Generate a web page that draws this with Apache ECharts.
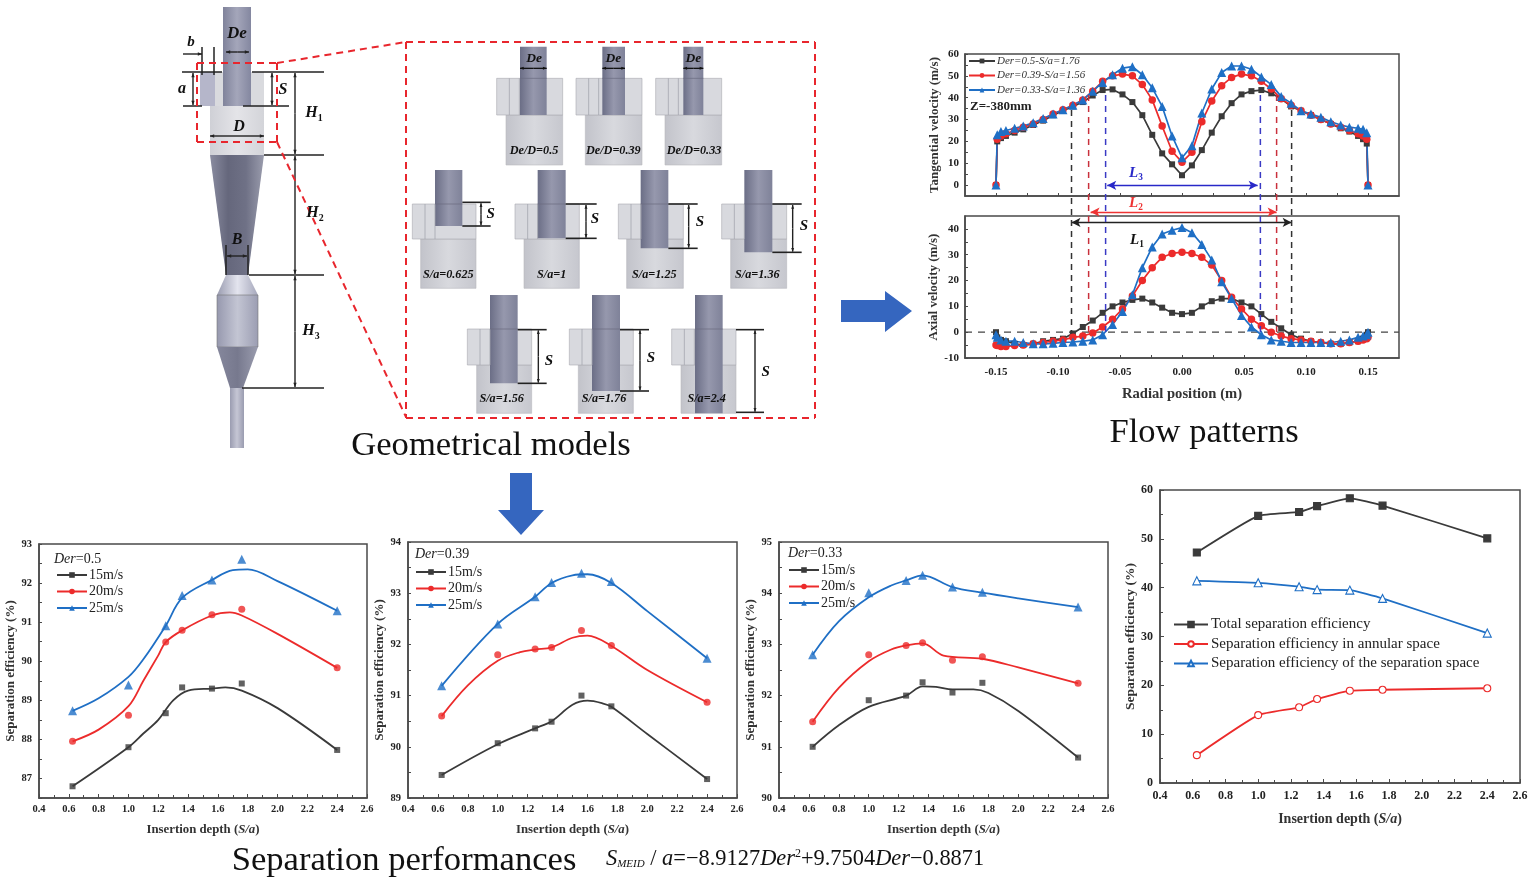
<!DOCTYPE html>
<html><head><meta charset="utf-8">
<style>html,body{margin:0;padding:0;background:#fff}#c{width:1534px;height:886px;filter:blur(.4px)}</style>
<script src="https://cdn.jsdelivr.net/npm/echarts@6/dist/echarts.min.js"></script>
</head><body><div id="c"></div>
<script>
// ---------- data ----------
const insertion=[0.625,1,1.25,1.36,1.56,1.76,2.4];
const speedNames=['15m/s','20m/s','25m/s'];
const a15=[86.8,87.8,88.67,89.33,89.3,89.43,87.73];
const a20=[87.95,88.62,90.49,90.79,91.19,91.33,89.83];
const a25=[88.73,89.39,90.91,91.68,92.08,92.61,91.29];
const aFit15=[[.625,86.8],[1,87.8],[1.1,88.15],[1.2,88.5],[1.3,89.0],[1.4,89.25],[1.56,89.3],[1.65,89.33],[1.76,89.25],[2,88.8],[2.4,87.73]];
const aFit20=[[.625,87.95],[.8,88.25],[1,88.85],[1.1,89.5],[1.2,90.15],[1.25,90.49],[1.36,90.79],[1.56,91.17],[1.68,91.25],[1.76,91.17],[2,90.7],[2.4,89.83]];
const aFit25=[[.625,88.73],[.8,89.05],[1,89.6],[1.1,90.05],[1.25,90.91],[1.36,91.62],[1.56,92.08],[1.7,92.33],[1.8,92.35],[2,92.05],[2.4,91.29]];
const b15=[89.45,90.07,90.36,90.49,91.0,90.79,89.37];
const b20=[90.6,91.8,91.91,91.94,92.27,91.98,90.87];
const b25=[91.19,92.4,92.93,93.21,93.39,93.23,91.73];
const bFit15=[[.625,89.45],[1,90.05],[1.25,90.36],[1.36,90.5],[1.5,90.82],[1.6,90.9],[1.7,90.85],[1.76,90.78],[2,90.25],[2.4,89.37]];
const bFit20=[[.625,90.6],[.8,91.2],[1,91.68],[1.15,91.85],[1.25,91.9],[1.36,91.94],[1.5,92.13],[1.6,92.17],[1.76,91.97],[2,91.5],[2.4,90.87]];
const bFit25=[[.625,91.19],[1,92.4],[1.25,92.93],[1.36,93.2],[1.5,93.35],[1.6,93.37],[1.76,93.2],[2,92.65],[2.4,91.73]];
const c15=[91.0,91.91,92.0,92.26,92.06,92.25,90.79];
const c20=[91.49,92.8,92.98,93.03,92.69,92.76,92.24];
const c25=[92.8,94.01,94.25,94.35,94.12,94.02,93.73];
const cFit15=[[.625,91],[.8,91.42],[1,91.78],[1.25,92],[1.36,92.18],[1.45,92.17],[1.56,92.12],[1.7,92.12],[1.8,92.05],[2,91.7],[2.4,90.79]];
const cFit20=[[.625,91.49],[.8,92.15],[1,92.67],[1.15,92.9],[1.25,92.98],[1.36,93.02],[1.5,92.78],[1.76,92.72],[2,92.55],[2.4,92.24]];
const cFit25=[[.625,92.8],[.8,93.45],[1,93.92],[1.15,94.15],[1.25,94.25],[1.36,94.35],[1.56,94.12],[1.76,94.01],[2,93.9],[2.4,93.73]];
const dTotal=[47.2,54.7,55.5,56.7,58.3,56.8,50.1];
const dAnnular=[5.7,13.9,15.5,17.2,18.9,19.1,19.4];
const dSeparation=[41.4,41,40.2,39.6,39.5,37.8,30.7];
const dNames=['Total separation efficiency','Separation efficiency in annular space','Separation efficiency of the separation space'];
const radial=[-.15,-.149,-.146,-.142,-.135,-.128,-.12,-.112,-.104,-.096,-.088,-.08,-.072,-.064,-.056,-.048,-.04,-.032,-.024,-.016,-.008,0,.008,.016,.024,.032,.04,.048,.056,.064,.072,.08,.088,.096,.104,.112,.12,.128,.135,.142,.146,.149,.15];
const flowNames=['Der=0.5-S/a=1.76','Der=0.39-S/a=1.56','Der=0.33-S/a=1.36'];
const tanBlack=[0,20,21.5,22.5,24,25.5,27.5,29.5,32,34,36,38,41,43.5,43.8,41.5,38,32,23,14.5,9.5,4.5,9,16,24,31.5,37.5,41.5,43,43.5,42,39.5,36,34,32,30,28,26,24.5,22.5,21,19,0];
const tanRed=[0,21,22.5,23.5,25,26.5,28,30,32.5,34.5,36.5,39,43,47.5,50,50.8,50,46,39,27,15.5,10.5,15,29,38.5,45.5,49.3,50.8,50,47.5,44,39.5,36.5,34,32,30,28,26.5,25,23.5,22.5,21,0];
const tanBlue=[0,23,24.5,25,26,27,28.5,30.5,32.5,34.5,36.5,39,43,47,50.5,53.5,54.2,50.5,44.5,36,22.5,12.5,18,33,44,51.5,54.5,54.5,53,49.5,46,40.5,37.5,34,32.5,31,29,27.5,26.5,26,25.5,24,0];
const axBlack=[0,-2,-3,-3.5,-4.5,-5,-4.5,-3.5,-3,-2.5,-.5,2,4.5,7.5,10,11.5,12.5,13,11.5,9.5,7.5,7,7.5,10,12,13,13,11.5,10,7,4,1.5,-1,-2.5,-3.5,-4,-4.5,-4.5,-4,-3.5,-2.5,-1,0];
const axRed=[-5,-5.2,-5.5,-5.5,-5.2,-5,-4.5,-4,-3.5,-3,-2,-1.5,-.3,2,5,9,14,20,25,29,30.5,31,30.5,29,26,20,13.5,9,5,2.5,0,-1.5,-2.5,-3,-3.5,-4,-4.5,-4.5,-4,-3.5,-3,-2.5,-2];
const axBlue=[-1,-2,-3,-3.5,-3.5,-4,-4.5,-4.5,-4.3,-4,-3.8,-3.5,-3,-1,3,8,14.5,25,33,38,39.5,40.5,38.5,34,28,19.5,13,6.5,2,-1,-3,-3.5,-4,-4,-4,-4,-4,-3.5,-3,-2,-1.5,-1,0];
const depthTicks=[.4,.6,.8,1,1.2,1.4,1.6,1.8,2,2.2,2.4,2.6];
const radialTicks=[-.15,-.1,-.05,0,.05,.1,.15];
const radialMarks={black:[-.0891,.0884],red:[-.0753,.0763],blue:[-.0616,.0632]};

// ---------- style ----------
const F='"Liberation Serif","Times New Roman",serif';
const BK='#3a3a3a',RD='#ec2b2b',BL='#1f6fc5',AX='#4a4a4a';
const grids=[],xAxes=[],yAxes=[],series=[],legends=[],g=[];
const range=(a,b,s)=>{const r=[];for(let i=0;Math.round((a+i*s)*1000)/1000<=b;i++)r.push(Math.round((a+i*s)*1000)/1000);return r};
function addGrid(box,x,y){
  grids.push({left:box[0],top:box[1],width:box[2]-box[0],height:box[3]-box[1],show:true,borderColor:AX,borderWidth:1.5,backgroundColor:'transparent'});
  const i=grids.length-1;
  xAxes.push(Object.assign({type:'value',gridIndex:i,splitLine:{show:false},axisLine:{onZero:false,lineStyle:{color:AX,width:1.5}},
    axisTick:{inside:true,length:3,lineStyle:{color:AX}},nameLocation:'middle'},x));
  yAxes.push(Object.assign({type:'value',gridIndex:i,splitLine:{show:false},axisLine:{onZero:false,lineStyle:{color:AX,width:1.5}},
    axisTick:{inside:true,length:3,lineStyle:{color:AX}},nameLocation:'middle'},y));
  return i;
}
const labelSt=(s)=>({color:'#222',fontFamily:F,fontSize:s,fontWeight:'bold'});
function depthX(){return {min:.4,max:2.6,interval:.2,
  minorTick:{show:true,splitNumber:2,length:3,lineStyle:{color:AX}},
  axisLabel:Object.assign({margin:6,formatter:v=>v.toFixed(1),customValues:depthTicks},labelSt(10.5)),
  axisTick:{inside:true,length:4,lineStyle:{color:AX}},
  name:'{a|Insertion depth (}{b|S/a}{a|)}',nameGap:25,
  nameTextStyle:{rich:{a:{fontFamily:F,fontSize:12.8,fontWeight:'bold',color:'#333'},b:{fontFamily:F,fontSize:12.8,fontWeight:'bold',fontStyle:'italic',color:'#333'}}}};}
function perfY(mn,mx,labels){return {min:mn,max:mx,
  axisLabel:Object.assign({margin:7,customValues:labels},labelSt(10.5)),
  axisTick:{inside:true,length:3,customValues:range(mn,mx,.5),lineStyle:{color:AX}},
  name:'Separation efficiency (%)',nameGap:16,nameTextStyle:{fontFamily:F,fontSize:13,fontWeight:'bold',color:'#333'}};}
function perfChart(box,y,sets,fits,legendPos,derText,derPos){
  const i=addGrid(box,depthX(),y);
  [[BK,'rect',6],[RD,'circle',7],[BL,'triangle',9]].forEach((st,k)=>{
    series.push({type:'line',name:speedNames[k],xAxisIndex:i,yAxisIndex:i,data:fits[k],smooth:.35,showSymbol:false,symbol:st[1],symbolSize:st[2]-1,
      lineStyle:{color:st[0],width:1.8},itemStyle:{color:st[0]},z:3,silent:true});
    series.push({type:'scatter',name:speedNames[k]+' points',xAxisIndex:i,yAxisIndex:i,data:insertion.map((x,n)=>[x,sets[k][n]]),symbol:st[1],symbolSize:st[2],
      itemStyle:{color:st[0]},z:4,silent:true});
  });
  legends.push({show:true,data:speedNames,orient:'vertical',left:legendPos[0],top:legendPos[1],itemWidth:30,itemHeight:7,itemGap:2.5,padding:0,selectedMode:false,
    textStyle:{fontFamily:F,fontSize:14,color:'#222',padding:[0,0,0,-3]}});
  text(derPos[0],derPos[1],'{i|Der}{n|='+derText+'}',{rich:{i:{fontFamily:F,fontStyle:'italic',fontSize:14,fill:'#222'},n:{fontFamily:F,fontSize:14,fill:'#222'}}},'left');
}

// ---------- graphic helpers ----------
function text(x,y,t,st,align){g.push({type:'text',x,y,z:20,style:Object.assign({text:t,fill:'#111',font:'16px '+F,align:align||'center',verticalAlign:'middle'},st||{})});}
function line(x1,y1,x2,y2,c,w,dash){g.push({type:'line',z:5,shape:{x1,y1,x2,y2},style:{stroke:c||'#222',lineWidth:w||1.4,lineDash:dash||null}});}
function rect(x0,y0,x1,y1,fill,stroke,z){g.push({type:'rect',z:z||2,shape:{x:x0,y:y0,width:x1-x0,height:y1-y0},style:{fill,stroke:stroke||null,lineWidth:stroke?.6:0}});}
function poly(pts,fill,z){g.push({type:'polygon',z:z||2,shape:{points:pts},style:{fill}});}
function hGrad(stops){return {type:'linear',x:0,y:0,x2:1,y2:0,colorStops:stops.map((c,i)=>({offset:i/(stops.length-1),color:c}))};}
function arrow(x1,y1,x2,y2,c,w,s){line(x1,y1,x2,y2,c,w);s=s||4.5;const a=Math.atan2(y2-y1,x2-x1);const head=(x,y,b)=>poly([[x,y],[x-s*Math.cos(b-.38),y-s*Math.sin(b-.38)],[x-s*Math.cos(b+.38),y-s*Math.sin(b+.38)]],c||'#222',6);head(x2,y2,a);}
function dbl(x1,y1,x2,y2,c,w,s){const mx=(x1+x2)/2,my=(y1+y2)/2;arrow(mx,my,x1,y1,c,w,s);arrow(mx,my,x2,y2,c,w,s);}
const bi=(s)=>({font:'italic bold '+s+'px '+F});
function sub(x,y,m,s,size,fill){text(x,y,'{m|'+m+'}{s|'+s+'}',{rich:{m:{fontFamily:F,fontStyle:'italic',fontWeight:'bold',fontSize:size,fill:fill||'#111',verticalAlign:'bottom'},s:{fontFamily:F,fontWeight:'bold',fontSize:size*.62,fill:fill||'#111',verticalAlign:'bottom',padding:[0,0,-2,0]}}});}

// ---------- whole cyclone ----------
const dark=hGrad(['#8a8ca0','#65677c','#6f7186','#9a9cad']),pale=hGrad(['#cfd0d6','#e4e4e8','#d3d4d9']);
rect(223,7,251,106,hGrad(['#80839b','#a4a6ba','#8487a0']),null,4);
rect(200,72,264,106,'#d9dade',null,2);rect(200,72,215,106,'#b5b6ca',null,3);
rect(210,106,264,155,pale,null,2);
poly([[210,155],[264,155],[248,275],[226,275]],dark,2);
poly([[226,275],[248,275],[258,295],[217,295]],hGrad(['#9a9cb0','#e3e4ee','#a5a7bb']),2);
rect(217,295,258,347,hGrad(['#9698ae','#c3c5d3','#9b9db2']),'#777',2);
poly([[217,347],[258,347],[243,388],[230,388]],hGrad(['#85879c','#77798e','#9a9cae']),2);
rect(230,388,244,448,hGrad(['#9a9cb0','#c5c6d4','#9a9cb0']),null,2);
[[182,72,222,72],[252,72,324,72],[183,106,202,106],[243,106,289,106],[264,155,324,155],[249,275,324,275],[242,388,324,388],[202,47,202,75],[214,47,214,75],[226,245,226,275],[248,245,248,275]].forEach(l=>line(l[0],l[1],l[2],l[3],'#222',1.5));
dbl(295,73,295,154);dbl(295,156,295,274);dbl(295,276,295,387);dbl(272,73,272,105);dbl(193,73,193,105);
arrow(183,54,202,54);
dbl(226,52,249,52);dbl(210,136,264,136);dbl(227,256,247,256);
text(237,34,'De',bi(17));text(191,42,'b',bi(15));text(182,89,'a',bi(16));text(283,90,'S',bi(16));text(239,127,'D',bi(16));text(237,240,'B',bi(16));
sub(314,113,'H','1',16);sub(315,213,'H','2',16);sub(311,331,'H','3',16);
const RDD='#e8262d';
[[197,63,277,63],[197,63,197,142],[197,142,277,142],[277,63,277,142],[277,63,406,42],[277,142,406,417]].forEach(l=>line(l[0],l[1],l[2],l[3],RDD,2,[7,5]));
[[406,42,815,42],[815,42,815,418],[406,418,815,418],[406,42,406,418]].forEach(l=>line(l[0],l[1],l[2],l[3],RDD,2,[7,5]));

// ---------- small models (coordinates in the 3x crop frame) ----------
const zx=v=>v/3+400,zy=v=>v/3+35;
let pipeBottom=240;
function model(boxL,bodyL,right,pipeL,pipeR,top,boxY0,boxY1,bottom,labelT,labelX,labelY){
  rect(zx(bodyL),zy(boxY1),zx(right),zy(bottom),hGrad(['#c2c3ca','#d8d9de','#c6c7ce']),'#b8b8be',2);
  rect(zx(boxL),zy(boxY0),zx(right),zy(boxY1),'#d8d9de','#a9aab0',3);
  line(zx(boxL+38),zy(boxY0),zx(boxL+38),zy(boxY1),'#a5a6ae',.8);line(zx(boxL+68),zy(boxY0),zx(boxL+68),zy(boxY1),'#a5a6ae',.8);
  rect(zx(pipeL),zy(top),zx(pipeR),zy(Math.min(bottom,pipeBottom)),hGrad(['#6b6e86','#9698ad','#7f8299']),null,4);
  line(zx(pipeL),zy(boxY0),zx(pipeR),zy(boxY0),'#6a6c80',.7);
  text(zx(labelX),zy(labelY),labelT,bi(12.2));
}
[[290,318,488,360,440,'De/D=0.5',402,'De',402],[528,556,726,607,675,'De/D=0.39',640,'De',640],[767,795,965,850,910,'De/D=0.33',882,'De',880]].forEach(m=>{
  pipeBottom=240;model(m[0],m[1],m[2],m[3],m[4],35,130,240,390,m[5],m[6],348);
  dbl(zx(m[3]),zy(100),zx(m[4]),zy(100),'#111',1.3,4);text(zx(m[8]),zy(72),'De',bi(13.5));
});
[[37,62,228,105,187,573,505,272,243,272,537,'S/a=0.625',145],[345,372,538,413,497,610,510,590,558,585,553,'S/a=1',455],[655,680,850,722,805,640,510,893,866,900,560,'S/a=1.25',763],[965,992,1160,1033,1117,652,510,1205,1178,1212,572,'S/a=1.36',1072]].forEach(m=>{
  pipeBottom=m[5];model(m[0],m[1],m[2],m[3],m[4],405,507,612,760,m[11],m[12],720);
  line(zx(m[4]),zy(m[6]-3),zx(m[7]),zy(m[6]-3),'#222',1.6);line(zx(m[4]),zy(m[5]),zx(m[7]),zy(m[5]),'#222',1.6);
  dbl(zx(m[8]),zy(m[6]),zx(m[8]),zy(m[5]-2),'#222',1.4,4);text(zx(m[9]),zy(m[10]),'S',bi(15));
});
[[202,230,395,270,353,1045,353,440,415,447,978,'S/a=1.56',305],[508,535,700,576,660,1068,660,747,720,753,970,'S/a=1.76',612],[815,843,1008,885,968,1135,1008,1092,1065,1097,1010,'S/a=2.4',920]].forEach(m=>{
  pipeBottom=m[5];model(m[0],m[1],m[2],m[3],m[4],780,882,990,1135,m[11],m[12],1093);
  line(zx(m[6]),zy(884),zx(m[7]),zy(884),'#222',1.6);line(zx(m[6]),zy(Math.min(m[5],1132)),zx(m[7]),zy(Math.min(m[5],1132)),'#222',1.6);
  dbl(zx(m[8]),zy(886),zx(m[8]),zy(Math.min(m[5],1132)-2),'#222',1.4,4);text(zx(m[9]),zy(m[10]),'S',bi(15));
});

// ---------- big block arrows and captions ----------
const BA='#3566bf';
poly([[841,300],[885,300],[885,291],[912,311],[885,332],[885,322],[841,322]],BA,2);
poly([[510,473],[532,473],[532,510],[544,510],[521,535],[498,510],[510,510]],BA,2);
text(491,446,'Geometrical models',{font:'34.6px '+F,fill:'#111'});
text(1204,433,'Flow patterns',{font:'34.6px '+F,fill:'#111'});
text(404,861,'Separation performances',{font:'34.6px '+F,fill:'#111'});
const eq={fontFamily:F,fontSize:22.4,fill:'#111'};
text(606,859,'{i|S}{s|MEID}{n| / }{i|a}{n|=−8.9127}{i|Der}{u|2}{n|+9.7504}{i|Der}{n|−0.8871}',{rich:{
  i:Object.assign({fontStyle:'italic'},eq),n:eq,s:{fontFamily:F,fontSize:11,fontStyle:'italic',fill:'#111',verticalAlign:'bottom'},u:{fontFamily:F,fontSize:12,fill:'#111',verticalAlign:'top'}}},'left');

// ---------- bottom performance charts ----------
perfChart([39,544,367,798],perfY(86.5,93,[87,88,89,90,91,92,93]),[a15,a20,a25],[aFit15,aFit20,aFit25],[56,568],'0.5',[54,559]);
perfChart([408,542,737,798],perfY(89,94,[89,90,91,92,93,94]),[b15,b20,b25],[bFit15,bFit20,bFit25],[415,565],'0.39',[415,554]);
perfChart([779,542,1108,798],perfY(90,95,[90,91,92,93,94,95]),[c15,c20,c25],[cFit15,cFit20,cFit25],[788,563],'0.33',[788,553]);

// D chart
{const i=addGrid([1160,490,1520,783],Object.assign(depthX(),{nameGap:29,axisLabel:Object.assign({margin:7,formatter:v=>v.toFixed(1),customValues:depthTicks},labelSt(12))}),
 {min:0,max:60,interval:10,minorTick:{show:true,splitNumber:2,length:3,lineStyle:{color:AX}},axisTick:{inside:true,length:4,lineStyle:{color:AX}},
  axisLabel:Object.assign({margin:7},labelSt(12)),name:'Separation efficiency (%)',nameGap:21,nameTextStyle:{fontFamily:F,fontSize:13.5,fontWeight:'bold',color:'#333'}});
 xAxes[i].nameTextStyle={rich:{a:{fontFamily:F,fontSize:14,fontWeight:'bold',color:'#333'},b:{fontFamily:F,fontSize:14,fontWeight:'bold',fontStyle:'italic',color:'#333'}}};
 [[dTotal,BK,'rect',7,BK],[dAnnular,RD,'circle',7,'#fff'],[dSeparation,BL,'triangle',8,'#fff']].forEach((s,k)=>{
  series.push({type:'line',name:dNames[k],xAxisIndex:i,yAxisIndex:i,data:insertion.map((x,n)=>[x,s[0][n]]),symbol:s[2],symbolSize:s[3],showAllSymbol:true,smooth:.15,
   lineStyle:{color:s[1],width:1.8},itemStyle:{color:s[4],borderColor:s[1],borderWidth:1.1},z:3,silent:true});});
 legends.push({show:true,data:dNames,orient:'vertical',left:1173,top:617,itemWidth:34,itemHeight:7,itemGap:4.5,padding:0,selectedMode:false,textStyle:{fontFamily:F,fontSize:15,color:'#222',padding:[0,0,0,-2]}});
}

// ---------- flow charts ----------
const rX={min:-.175,max:.175,axisTick:{inside:true,length:3,customValues:range(-.15,.15,.025),lineStyle:{color:AX}}};
const flowY=(t)=>({name:t,nameGap:24,nameTextStyle:{fontFamily:F,fontSize:13,fontWeight:'bold',color:'#333'}});
const up=addGrid([965,54,1399,196],Object.assign({},rX,{axisLabel:{show:false}}),
  Object.assign({min:-5,max:60,axisLabel:Object.assign({margin:6,customValues:[0,10,20,30,40,50,60]},labelSt(11)),axisTick:{inside:true,length:3,customValues:range(0,60,5),lineStyle:{color:AX}}},flowY('Tangential velocity (m/s)')));
const lo=addGrid([965,216,1399,358],Object.assign({},rX,{axisLabel:Object.assign({margin:9,formatter:v=>v.toFixed(2),customValues:radialTicks},labelSt(11)),
  name:'Radial position (m)',nameGap:29,nameTextStyle:{fontFamily:F,fontSize:14.6,fontWeight:'bold',color:'#333'}}),
  Object.assign({min:-10,max:45,axisLabel:Object.assign({margin:6,customValues:[-10,0,10,20,30,40]},labelSt(11)),axisTick:{inside:true,length:3,customValues:range(-10,40,5),lineStyle:{color:AX}}},flowY('Axial velocity (m/s)')));
[[tanBlack,axBlack,BK,'rect',6],[tanRed,axRed,RD,'circle',7.5],[tanBlue,axBlue,BL,'triangle',9]].forEach((s,k)=>{
  [[up,s[0]],[lo,s[1]]].forEach(p=>series.push({type:'line',name:flowNames[k],xAxisIndex:p[0],yAxisIndex:p[0],data:radial.map((x,n)=>[x,p[1][n]]),
    symbol:s[3],symbolSize:s[4],showAllSymbol:true,lineStyle:{color:s[2],width:1.7},itemStyle:{color:s[2]},z:3,silent:true}));
});
series.push({type:'line',name:'zero',xAxisIndex:lo,yAxisIndex:lo,data:[[-.175,0],[.175,0]],showSymbol:false,lineStyle:{color:'#444',width:1.2,type:[7,6]},z:2,silent:true});
legends.push({show:true,data:flowNames,orient:'vertical',left:968,top:55.5,itemWidth:26,itemHeight:6,itemGap:3.5,padding:0,selectedMode:false,
  textStyle:{fontFamily:F,fontSize:11,fontStyle:'italic',color:'#333',padding:[0,0,0,-3]}});
text(970,107,'Z=-380mm',{font:'bold 13px '+F,fill:'#222'},'left');

// overlay running across both flow charts (y as a fraction of the stack height)
grids.push({left:965,top:54,width:434,height:304,show:false});
const ov=grids.length-1;
xAxes.push({type:'value',gridIndex:ov,min:-.175,max:.175,show:false});
yAxes.push({type:'value',gridIndex:ov,min:0,max:1,show:false});
[['black','#333',.816],['red','#c9303c',.865],['blue','#3a3ac4',.865]].forEach(c=>{
  radialMarks[c[0]].forEach(x=>series.push({type:'line',name:c[0]+' limit',xAxisIndex:ov,yAxisIndex:ov,data:[[x,c[2]],[x,.081]],showSymbol:false,lineStyle:{color:c[1],width:1.5,type:[6,5]},z:5,silent:true}));
});
[[-.0603,.061,.568,'#2828c8'],[-.0737,.0763,.48,'#e33'],[-.0891,.0884,.446,'#222']].forEach(a=>{
  series.push({type:'line',name:'span',xAxisIndex:ov,yAxisIndex:ov,data:[],z:6,silent:true,
    markLine:{silent:true,symbol:['arrow','arrow'],symbolSize:[7,9],label:{show:false},lineStyle:{color:a[3],type:'solid',width:1.4},data:[[{coord:[a[0],a[2]]},{coord:[a[1],a[2]]}]]}});
});
sub(1136,173,'L','3',15,'#2828c8');sub(1136,203,'L','2',15,'#e33');sub(1137,240,'L','1',15,'#111');

// ---------- render ----------
const chart=echarts.init(document.getElementById('c'));
chart.setOption({animation:false,backgroundColor:'#fff',tooltip:{show:false},grid:grids,xAxis:xAxes,yAxis:yAxes,legend:legends,series,graphic:{elements:g}});
</script></body></html>
